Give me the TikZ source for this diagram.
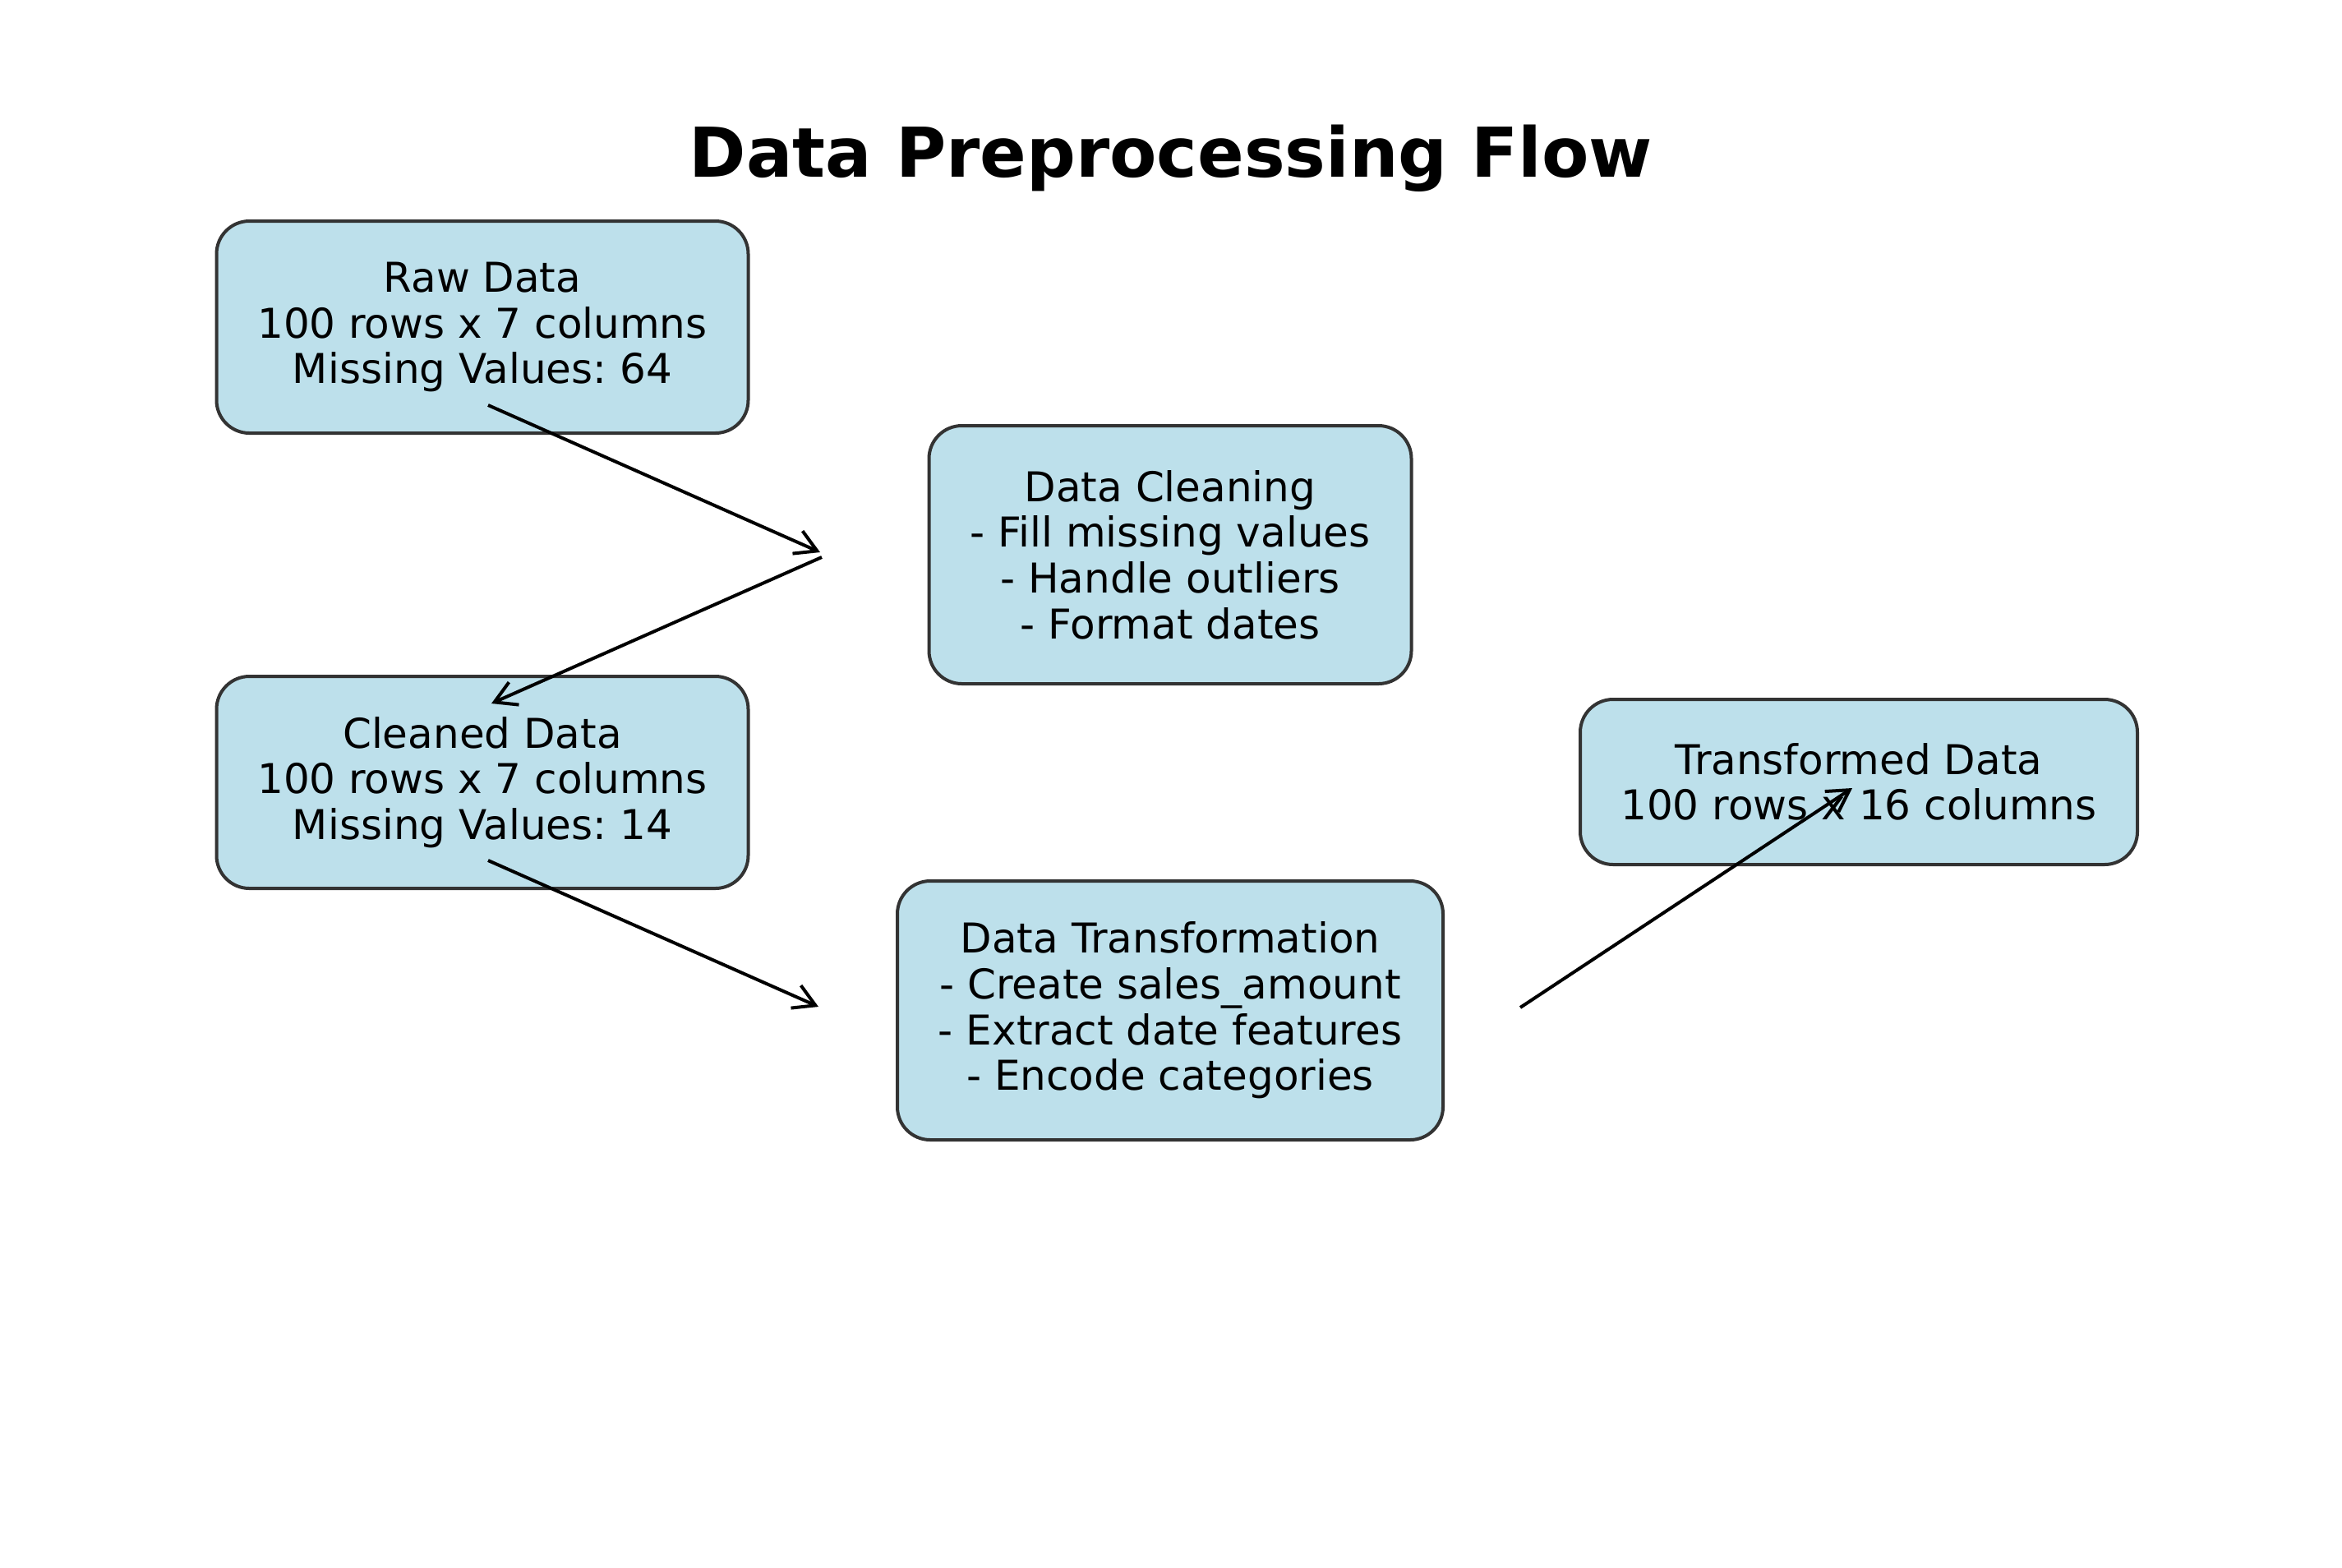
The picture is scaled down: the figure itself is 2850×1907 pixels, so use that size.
\documentclass[tikz,border=0pt]{standalone}
\usepackage{fontspec}
\setmainfont{DejaVu Sans}
\usetikzlibrary{arrows.meta}
\frenchspacing
\definecolor{boxfill}{HTML}{BDE0EB}
\definecolor{boxedge}{HTML}{333333}
\tikzset{
  procbox/.style={draw=boxedge, fill=boxfill, line width=4pt, rounded corners=40pt,
    align=center, inner sep=0pt, font=\fontsize{50}{55.6}\selectfont},
  flow/.style={line width=4pt, -{Straight Barb[length=26pt,width=30pt,line width=4pt]}}
}
\begin{document}
\begin{tikzpicture}[x=1pt,y=-1pt]
\useasboundingbox (0,0) rectangle (2850,1907);
\node[anchor=base, font=\fontsize{83.6}{100}\selectfont\bfseries] (title) at (1425,215) {Data Preprocessing Flow};

\node[procbox, minimum width=647pt, minimum height=258pt] (raw) at (587,398)
  {Raw Data\\100 rows x 7 columns\\Missing Values: 64};
\node[procbox, minimum width=587pt, minimum height=314pt] (clean) at (1424,675)
  {Data Cleaning\\- Fill missing values\\- Handle outliers\\- Format dates};
\node[procbox, minimum width=647pt, minimum height=258pt] (cleaned) at (587,952)
  {Cleaned Data\\100 rows x 7 columns\\Missing Values: 14};
\node[procbox, minimum width=664pt, minimum height=315pt] (transf) at (1424,1229.5)
  {Data Transformation\\- Create sales\_amount\\- Extract date features\\- Encode categories};
\node[procbox, minimum width=678pt, minimum height=201pt] (tdata) at (2262,951.5)
  {Transformed Data\\100 rows x 16 columns};

\coordinate (a1s) at (594,493);
\coordinate (a1e) at (998,672);
\coordinate (a2s) at (1000,678);
\coordinate (a2e) at (598,856);
\coordinate (a3s) at (594,1047);
\coordinate (a3e) at (996,1225);
\coordinate (a4s) at (1850,1226);
\coordinate (a4e) at (2254,959);

\draw[flow] (a1s) -- (a1e);
\draw[flow] (a2s) -- (a2e);
\draw[flow] (a3s) -- (a3e);
\draw[flow] (a4s) -- (a4e);
\end{tikzpicture}
\end{document}
